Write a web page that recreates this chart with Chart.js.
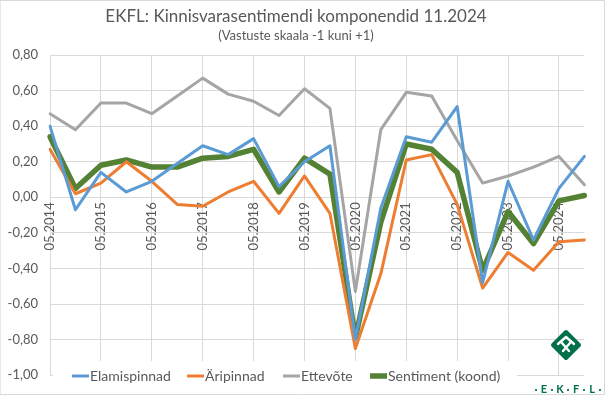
<!DOCTYPE html>
<html>
<head>
<meta charset="utf-8">
<script src="https://cdn.jsdelivr.net/npm/chart.js@4"></script>
<style>
  html, body { margin: 0; padding: 0; background: #fff; }
  #wrap { width: 605px; height: 395px; }
</style>
</head>
<body>
<div id="wrap"><canvas id="myChart" width="605" height="395"></canvas></div>
<script>
const labels = ['05.2014', '11.2014', '05.2015', '11.2015', '05.2016', '11.2016', '05.2017', '11.2017',
  '05.2018', '11.2018', '05.2019', '11.2019', '05.2020', '11.2020', '05.2021', '11.2021',
  '05.2022', '11.2022', '05.2023', '11.2023', '05.2024', '11.2024'];

const elamispinnad = [0.40, -0.07, 0.14, 0.03, 0.09, 0.19, 0.29, 0.24, 0.33, 0.06, 0.20, 0.29,
  -0.80, -0.06, 0.34, 0.31, 0.51, -0.48, 0.09, -0.24, 0.05, 0.23];
const aripinnad = [0.27, 0.02, 0.08, 0.20, 0.09, -0.04, -0.05, 0.03, 0.09, -0.09, 0.12, -0.09,
  -0.85, -0.43, 0.21, 0.24, -0.04, -0.51, -0.31, -0.41, -0.25, -0.24];
const ettevote = [0.47, 0.38, 0.53, 0.53, 0.47, 0.57, 0.67, 0.58, 0.54, 0.46, 0.61, 0.50,
  -0.53, 0.38, 0.59, 0.57, 0.32, 0.08, 0.12, 0.17, 0.23, 0.07];
const sentiment = [0.34, 0.05, 0.18, 0.21, 0.17, 0.17, 0.22, 0.23, 0.27, 0.03, 0.22, 0.13,
  -0.79, -0.14, 0.30, 0.27, 0.14, -0.41, -0.08, -0.26, -0.02, 0.01];

const FONT = 'Lato, "Open Sans", sans-serif';
const TXT = '#595959';
const GRID = '#d9d9d9';
const LOGO = '#00704a';

// legend drawn over the bottom of the plot, like in the Excel original
const legendBox = {
  id: 'legendBox',
  afterDraw(chart) {
    const c = chart.ctx;
    c.save();
    c.fillStyle = '#fff';
    c.fillRect(53, 361, 464, 33);
    const items = [
      { x: 72, ds: 0 }, { x: 187, ds: 1 }, { x: 283, ds: 2 }, { x: 370, ds: 3 }
    ];
    c.font = '14px ' + FONT;
    c.textBaseline = 'middle';
    items.forEach(it => {
      const ds = chart.data.datasets[it.ds];
      c.strokeStyle = ds.borderColor;
      c.lineWidth = ds.borderWidth;
      c.beginPath();
      c.moveTo(it.x, 376);
      c.lineTo(it.x + 17, 376);
      c.stroke();
      c.fillStyle = TXT;
      c.fillText(ds.label, it.x + 18, 376);
    });

    // EKFL logo
    const gx = 566, gy = 345, r = 13;
    c.fillStyle = LOGO;
    c.strokeStyle = LOGO;
    c.lineJoin = 'round';
    c.lineWidth = 4;
    c.beginPath();
    c.moveTo(gx, gy - r);
    c.lineTo(gx + r, gy);
    c.lineTo(gx, gy + r);
    c.lineTo(gx - r, gy);
    c.closePath();
    c.stroke();
    c.fill();
    c.strokeStyle = '#fff';
    c.lineCap = 'round';
    c.lineWidth = 2.4;
    c.beginPath();
    c.moveTo(gx - 8, gy - 1);
    c.lineTo(gx, gy - 8);
    c.lineTo(gx + 8, gy - 1);
    c.stroke();
    c.beginPath();
    c.moveTo(gx - 4, gy - 2);
    c.lineTo(gx + 3, gy + 6);
    c.moveTo(gx + 4, gy - 2);
    c.lineTo(gx - 3, gy + 6);
    c.stroke();
    c.fillStyle = LOGO;
    c.font = 'bold 11px ' + FONT;
    c.textAlign = 'center';
    const chars = ['\u00b7', 'E', '\u00b7', 'K', '\u00b7', 'F', '\u00b7', 'L', '\u00b7'];
    chars.forEach((ch, i) => c.fillText(ch, 536 + i * 8, 389));

    // chart border
    c.strokeStyle = GRID;
    c.lineWidth = 1;
    c.strokeRect(0.5, 0.5, 604, 394);
    c.restore();
  }
};

const whiteBg = {
  id: 'whiteBg',
  beforeDraw(chart) {
    const c = chart.ctx;
    c.save();
    c.fillStyle = '#fff';
    c.fillRect(0, 0, chart.width, chart.height);
    c.restore();
  }
};

const ctx = document.getElementById('myChart');

new Chart(ctx, {
  type: 'line',
  data: {
    labels: labels,
    datasets: [
      { label: 'Elamispinnad', data: elamispinnad, borderColor: '#5b9bd5', borderWidth: 3 },
      { label: 'Äripinnad', data: aripinnad, borderColor: '#ed7d31', borderWidth: 3 },
      { label: 'Ettevõte', data: ettevote, borderColor: '#a5a5a5', borderWidth: 3 },
      { label: 'Sentiment (koond)', data: sentiment, borderColor: '#548235', borderWidth: 5.5 }
    ]
  },
  options: {
    responsive: false,
    animation: false,
    devicePixelRatio: 1,
    elements: {
      point: { radius: 0 },
      line: { tension: 0, borderJoinStyle: 'round', borderCapStyle: 'round' }
    },
    layout: { padding: { top: 0, right: 13, bottom: 14, left: 0 } },
    plugins: {
      legend: { display: false },
      tooltip: { enabled: false },
      title: {
        display: true,
        text: 'EKFL: Kinnisvarasentimendi komponendid 11.2024',
        color: TXT,
        font: { family: FONT, size: 17, weight: 'normal' },
        padding: { top: 6, bottom: 0 }
      },
      subtitle: {
        display: true,
        text: '(Vastuste skaala -1 kuni +1)',
        color: TXT,
        font: { family: FONT, size: 13, weight: 'normal' },
        padding: { top: 2, bottom: 11 }
      }
    },
    scales: {
      x: {
        position: { y: 0 },
        afterFit: s => { s.height = 0; },
        ticks: {
          autoSkip: false,
          minRotation: 90,
          maxRotation: 90,
          padding: 5,
          color: TXT,
          font: { family: FONT, size: 13 },
          callback: (v, i) => (i % 2 === 0 ? labels[i] : '')
        },
        grid: {
          drawTicks: false,
          color: c => (c.index % 2 === 0 ? GRID : 'rgba(0,0,0,0)')
        },
        border: { display: false }
      },
      y: {
        min: -1,
        max: 0.8,
        afterFit: s => { s.width = 50; },
        ticks: {
          stepSize: 0.2,
          padding: 12,
          color: TXT,
          font: { family: FONT, size: 13 },
          callback: v => v.toFixed(2).replace('.', ',').replace('-0,00', '0,00')
        },
        grid: { drawTicks: false, color: GRID },
        border: { display: false }
      }
    }
  },
  plugins: [whiteBg, legendBox]
});
</script>
</body>
</html>
